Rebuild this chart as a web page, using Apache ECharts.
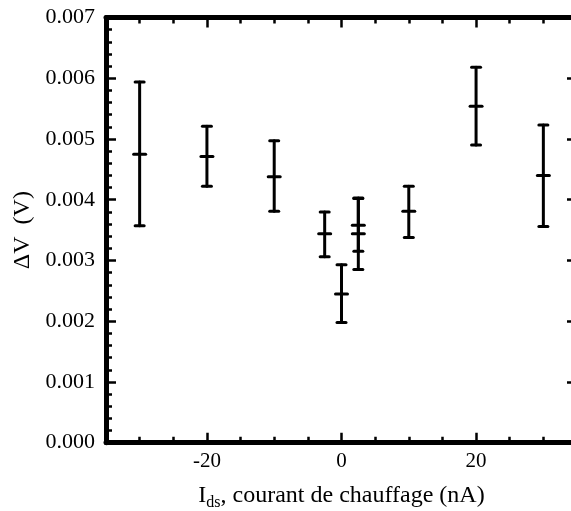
<!DOCTYPE html>
<html>
<head>
<meta charset="utf-8">
<script src="https://cdn.jsdelivr.net/npm/echarts@6/dist/echarts.min.js"></script>
<style>
html,body{margin:0;padding:0;background:#fff;}
#c{width:571px;height:511px;}
</style>
</head>
<body>
<div id="c"></div>
<script>
// Data
const xVals = [-30, -20, -10, -2.5, 0, 2.5, 2.5, 10, 20, 30];
const yMean = [0.00475, 0.00471, 0.00438, 0.00344, 0.00245, 0.00358, 0.00344, 0.00381, 0.00554, 0.00440];
const yLow  = [0.00357, 0.00422, 0.00381, 0.00306, 0.00198, 0.00315, 0.00285, 0.00338, 0.00490, 0.00356];
const yHigh = [0.00594, 0.00521, 0.00497, 0.00380, 0.00293, 0.00402, 0.00403, 0.00422, 0.00618, 0.00523];

// Axis ticks
const xMajorTicks = [-20, 0, 20];
const xMinorTicks = [-30, -25, -15, -10, -5, 5, 10, 15, 25, 30];
const xMin = -35, xMax = 35;
const yMin = 0, yMax = 0.007, yStep = 0.001;

const FONT = '"Liberation Serif", "DejaVu Serif", serif';
const black = '#000';

const data = xVals.map((x, i) => [x, yMean[i], yLow[i], yHigh[i]]);

function xAxisDef(pos, ticks, len, showLabel, showLine, name) {
  const ax = {
    type: 'value', position: pos, min: xMin, max: xMax,
    axisLine: { show: showLine, onZero: false, lineStyle: { color: black, width: 5 } },
    axisTick: { show: true, inside: true, length: len, customValues: ticks, lineStyle: { color: black, width: 2.5 } },
    axisLabel: { show: showLabel, customValues: ticks, color: black, fontFamily: FONT, fontSize: 21, margin: 8,
                 formatter: v => String(v) },
    splitLine: { show: false }
  };
  if (name) {
    ax.name = name;
    ax.nameLocation = 'middle';
    ax.nameGap = 39;
    ax.nameTextStyle = {
      color: black, fontFamily: FONT, fontSize: 24,
      rich: {
        i: { fontFamily: FONT, fontSize: 24, color: black },
        sub: { fontFamily: FONT, fontSize: 16, color: black, padding: [13, 0, 0, 0] },
        n: { fontFamily: FONT, fontSize: 24, color: black }
      }
    };
  }
  return ax;
}

const option = {
  animation: false,
  backgroundColor: '#fff',
  grid: { left: 106, width: 471, top: 17.5, height: 425.2, containLabel: false, outerBoundsMode: 'none' },
  xAxis: [
    xAxisDef('bottom', xMajorTicks, 10, true, true, '{i|I}{sub|ds}{n|, courant de chauffage (nA)}'),
    xAxisDef('bottom', xMinorTicks, 6, false, false),
    xAxisDef('top', xMajorTicks, 10, false, true),
    xAxisDef('top', xMinorTicks, 6, false, false)
  ],
  yAxis: [
    {
      type: 'value', position: 'left', min: yMin, max: yMax, interval: yStep,
      name: 'ΔV  (V)', nameLocation: 'middle', nameGap: 70,
      nameTextStyle: { color: black, fontFamily: FONT, fontSize: 24 },
      axisLine: { show: true, onZero: false, lineStyle: { color: black, width: 5 } },
      axisTick: { show: true, inside: true, length: 10, lineStyle: { color: black, width: 2.5 } },
      minorTick: { show: true, splitNumber: 5, length: 6, lineStyle: { color: black, width: 2.5 } },
      axisLabel: { color: black, fontFamily: FONT, fontSize: 22, margin: 11, formatter: v => v.toFixed(3) },
      splitLine: { show: false }
    },
    {
      type: 'value', position: 'right', min: yMin, max: yMax, interval: yStep,
      axisLine: { show: true, onZero: false, lineStyle: { color: black, width: 5 } },
      axisTick: { show: true, inside: true, length: 10, lineStyle: { color: black, width: 2.5 } },
      axisLabel: { show: false },
      splitLine: { show: false }
    }
  ],
  series: [{
    type: 'custom',
    xAxisIndex: 0, yAxisIndex: 0,
    data: data,
    encode: { x: 0, y: [1, 2, 3] },
    renderItem: function (params, api) {
      const x = api.value(0);
      const pm = api.coord([x, api.value(1)]);
      const pl = api.coord([x, api.value(2)]);
      const ph = api.coord([x, api.value(3)]);
      const st = { stroke: black, lineWidth: 3, lineCap: 'round' };
      const cw = 4.5, mw = 6;
      return {
        type: 'group',
        children: [
          { type: 'line', shape: { x1: pl[0], y1: pl[1], x2: ph[0], y2: ph[1] }, style: st },
          { type: 'line', shape: { x1: ph[0] - cw, y1: ph[1], x2: ph[0] + cw, y2: ph[1] }, style: st },
          { type: 'line', shape: { x1: pl[0] - cw, y1: pl[1], x2: pl[0] + cw, y2: pl[1] }, style: st },
          { type: 'line', shape: { x1: pm[0] - mw, y1: pm[1], x2: pm[0] + mw, y2: pm[1] }, style: st }
        ]
      };
    }
  }]
};

const chart = echarts.init(document.getElementById('c'), null, { renderer: 'canvas' });
chart.setOption(option);
</script>
</body>
</html>
